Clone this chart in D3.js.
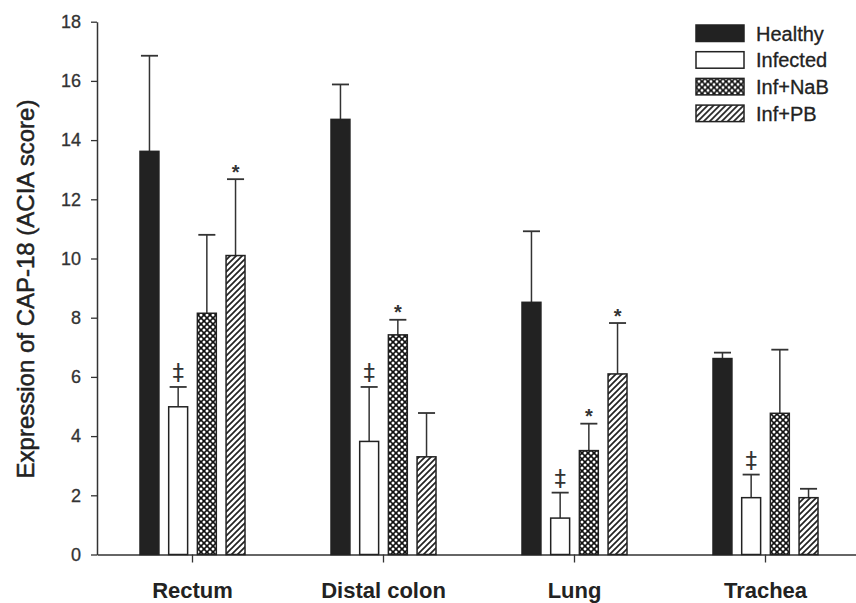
<!DOCTYPE html>
<html>
<head>
<meta charset="utf-8">
<script src="https://cdn.jsdelivr.net/npm/d3@7"></script>
<style>
  body { margin: 0; background: #fff; }
  svg { font-family: "Liberation Sans", Arial, sans-serif; }
</style>
</head>
<body>
<div class="chart"></div>
<script>
var width = 856;
var height = 603;

// data
var categories = ["Rectum", "Distal colon", "Lung", "Trachea"];
var series = ["Healthy", "Infected", "Inf+NaB", "Inf+PB"];
var means = {
  "Healthy":  [13.62, 14.7, 8.52, 6.62],
  "Infected": [4.99, 3.82, 1.23, 1.92],
  "Inf+NaB":  [8.15, 7.42, 3.51, 4.77],
  "Inf+PB":   [10.1, 3.3, 6.1, 1.92]
};
var errUp = {
  "Healthy":  [16.85, 15.88, 10.92, 6.82],
  "Infected": [5.66, 5.66, 2.09, 2.7],
  "Inf+NaB":  [10.8, 7.93, 4.42, 6.92],
  "Inf+PB":   [12.68, 4.78, 7.82, 2.22]
};
// significance marks ("" = none)
var marks = {
  "Healthy":  ["", "", "", ""],
  "Infected": ["\u2021", "\u2021", "\u2021", "\u2021"],
  "Inf+NaB":  ["", "*", "*", ""],
  "Inf+PB":   ["*", "", "*", ""]
};
var yTicks = [0, 2, 4, 6, 8, 10, 12, 14, 16, 18];

var ink = "#222";

var svg = d3.select(".chart")
  .append("svg")
  .attr("width", width)
  .attr("height", height);

var defs = svg.append("defs");

// cross hatch for Inf+NaB
var pNab = defs.append("pattern")
  .attr("id", "nab")
  .attr("patternUnits", "userSpaceOnUse")
  .attr("width", 6).attr("height", 6);
pNab.append("rect").attr("width", 6).attr("height", 6).attr("fill", "#111");
[[0,0],[6,0],[0,6],[6,6],[3,3]].forEach(function(p){
  pNab.append("circle").attr("cx", p[0]).attr("cy", p[1]).attr("r", 1.5).attr("fill", "#fff");
});

// diagonal lines for Inf+PB
var pPb = defs.append("pattern")
  .attr("id", "pb")
  .attr("patternUnits", "userSpaceOnUse")
  .attr("width", 6).attr("height", 6);
pPb.append("rect").attr("width", 6).attr("height", 6).attr("fill", "#fff");
pPb.append("path")
  .attr("d", "M-1,1 L1,-1 M0,6 L6,0 M5,7 L7,5")
  .attr("stroke", ink)
  .attr("stroke-width", 1.7);

var fills = {
  "Healthy": ink,
  "Infected": "#fff",
  "Inf+NaB": "url(#nab)",
  "Inf+PB": "url(#pb)"
};

var y = d3.scaleLinear().domain([0, 18]).range([554.5, 21.7]);

var x0 = d3.scaleBand().domain(categories).range([97, 861]);
var x1 = d3.scaleBand().domain(series).range([-52.5, 52.5]).paddingInner(0.34);

// axes
var yAxis = svg.append("g")
  .attr("transform", "translate(97,0)")
  .call(d3.axisLeft(y).tickValues(yTicks).tickSize(6).tickSizeOuter(0).tickPadding(10));
yAxis.select(".domain").attr("stroke", "#333").attr("stroke-width", 1.5);
yAxis.selectAll(".tick line").attr("stroke", "#333").attr("stroke-width", 1.3);
yAxis.selectAll(".tick text")
  .attr("font-size", 18)
  .attr("fill", "#333")
  .attr("stroke", "#333")
  .attr("stroke-width", 0.3)
  .attr("font-family", "Liberation Sans, Arial, sans-serif");

var xAxis = svg.append("g")
  .attr("transform", "translate(0,554.5)")
  .call(d3.axisBottom(x0).tickSize(8).tickSizeOuter(0).tickPadding(20));
xAxis.select(".domain").attr("stroke", "#333").attr("stroke-width", 1.5);
xAxis.selectAll(".tick line").attr("stroke", "#333").attr("stroke-width", 1.3);
xAxis.selectAll(".tick text")
  .attr("font-size", 22)
  .attr("font-weight", "bold")
  .attr("fill", "#222")
  .attr("font-family", "Liberation Sans, Arial, sans-serif");

// y label
svg.append("text")
  .attr("transform", "translate(34,289) rotate(-90)")
  .attr("text-anchor", "middle")
  .attr("font-size", 24)
  .attr("fill", "#222")
  .attr("stroke", "#222")
  .attr("stroke-width", 0.5)
  .text("Expression of CAP-18 (ACIA score)");

// bars
var rows = [];
categories.forEach(function(c, i){
  series.forEach(function(s){
    rows.push({cat: c, ser: s, v: means[s][i], e: errUp[s][i], m: marks[s][i]});
  });
});

function cx(d){ return x0(d.cat) + x0.bandwidth() / 2 + x1(d.ser); }

var bw = x1.bandwidth();
var capW = bw * 0.9;

// error bars (upper only)
var err = svg.append("g").selectAll("g")
  .data(rows)
  .enter()
  .append("g");
err.append("line")
  .attr("x1", d => cx(d) + bw / 2)
  .attr("x2", d => cx(d) + bw / 2)
  .attr("y1", d => y(d.v))
  .attr("y2", d => y(d.e))
  .attr("stroke", "#333")
  .attr("stroke-width", 1.5);
err.append("line")
  .attr("x1", d => cx(d) + bw / 2 - capW / 2)
  .attr("x2", d => cx(d) + bw / 2 + capW / 2)
  .attr("y1", d => y(d.e))
  .attr("y2", d => y(d.e))
  .attr("stroke", "#333")
  .attr("stroke-width", 1.8);

svg.append("g").selectAll("rect")
  .data(rows)
  .enter()
  .append("rect")
  .attr("x", d => cx(d))
  .attr("y", d => y(d.v))
  .attr("width", bw)
  .attr("height", d => y(0) - y(d.v))
  .attr("fill", d => fills[d.ser])
  .attr("stroke", ink)
  .attr("stroke-width", 1.5);

// significance marks
svg.append("g").selectAll("text")
  .data(rows.filter(d => d.m !== ""))
  .enter()
  .append("text")
  .attr("x", d => cx(d) + bw / 2)
  .attr("y", d => d.m === "*" ? y(d.e) - 0.5 : y(d.e) - 7)
  .attr("text-anchor", "middle")
  .attr("font-family", d => d.m === "*" ? "Liberation Sans, Arial, sans-serif" : "DejaVu Sans, sans-serif")
  .attr("font-size", d => d.m === "*" ? 20 : 23)
  .attr("font-weight", d => d.m === "*" ? "bold" : "normal")
  .attr("fill", "#333")
  .text(d => d.m);

// legend
var legend = svg.append("g").selectAll("g")
  .data(series)
  .enter()
  .append("g")
  .attr("transform", (d, i) => "translate(696," + (25 + i * 26.7) + ")");
legend.append("rect")
  .attr("width", 48)
  .attr("height", 16.5)
  .attr("fill", d => fills[d])
  .attr("stroke", ink)
  .attr("stroke-width", 1.5);
legend.append("text")
  .attr("x", 60)
  .attr("y", 15.5)
  .attr("font-size", 20)
  .attr("fill", "#222")
  .attr("stroke", "#222")
  .attr("stroke-width", 0.3)
  .text(d => d);
</script>
</body>
</html>
